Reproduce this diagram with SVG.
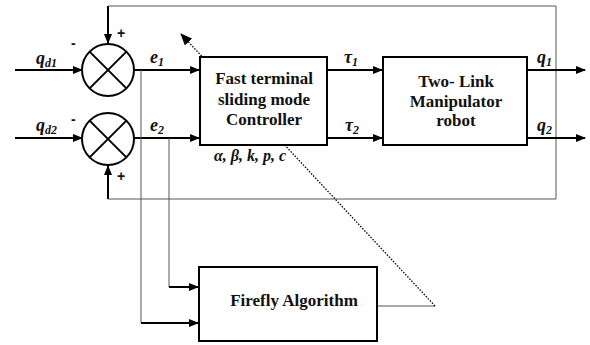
<svg xmlns="http://www.w3.org/2000/svg" width="590" height="345" viewBox="0 0 590 345">
<style>
.thick{stroke:#000;stroke-width:2;fill:none}
.thin{stroke:#555;stroke-width:1;fill:none}
.box{fill:#fff;stroke:#000;stroke-width:2}
.t{font-family:'Liberation Serif','DejaVu Serif',serif;font-weight:bold;font-size:17px;fill:#111;text-anchor:middle}
.l{font-family:'Liberation Serif','DejaVu Serif',serif;font-weight:bold;font-style:italic;font-size:18px;fill:#111}
.s{font-size:12px}
.sg{font-family:'Liberation Sans',sans-serif;font-weight:bold;font-size:14px;fill:#111}
</style>
<defs>
<marker id="ah" markerWidth="10" markerHeight="8" refX="9" refY="4" orient="auto" markerUnits="userSpaceOnUse"><path d="M0,0 L10,4 L0,8 Z" fill="#000"/></marker>
<marker id="ad" markerWidth="12" markerHeight="10" refX="11" refY="5" orient="auto" markerUnits="userSpaceOnUse"><path d="M0,0 L12,5 L0,10 Z" fill="#000"/></marker>
</defs>
<g id="connectors">
<line class="thick" x1="15" y1="70" x2="82" y2="70" marker-end="url(#ah)"/>
<line class="thick" x1="15" y1="138" x2="82" y2="138" marker-end="url(#ah)"/>
<line class="thick" x1="108" y1="6" x2="108" y2="43" marker-end="url(#ah)"/>
<line class="thick" x1="108" y1="199" x2="108" y2="166" marker-end="url(#ah)"/>
<polyline class="thin" points="108,6 556,6 556,199 108,199"/>
<line class="thick" x1="134" y1="70" x2="199" y2="70" marker-end="url(#ah)"/>
<line class="thick" x1="134" y1="138" x2="199" y2="138" marker-end="url(#ah)"/>
<polyline class="thin" points="141,70 141,323"/>
<polyline class="thin" points="169,138 169,287"/>
<line class="thick" x1="141" y1="323" x2="198" y2="323" marker-end="url(#ah)"/>
<line class="thick" x1="169" y1="287" x2="198" y2="287" marker-end="url(#ah)"/>
<line class="thick" x1="327" y1="70" x2="382" y2="70" marker-end="url(#ah)"/>
<line class="thick" x1="327" y1="138" x2="382" y2="138" marker-end="url(#ah)"/>
<line class="thick" x1="527" y1="70" x2="585" y2="70" marker-end="url(#ah)"/>
<line class="thick" x1="527" y1="138" x2="585" y2="138" marker-end="url(#ah)"/>
<line class="thin" x1="377" y1="306" x2="435" y2="306"/>
<line x1="435" y1="306" x2="181" y2="34" stroke="#000" stroke-width="1.3" stroke-dasharray="1.5,1.5" marker-end="url(#ad)"/>
</g>
<g id="sum1">
<circle cx="108" cy="70" r="26" fill="#fff" stroke="#000" stroke-width="2"/>
<line x1="89.6" y1="51.6" x2="126.4" y2="88.4" stroke="#000" stroke-width="2"/>
<line x1="126.4" y1="51.6" x2="89.6" y2="88.4" stroke="#000" stroke-width="2"/>
<text class="sg" x="71" y="48">-</text>
<text class="sg" x="117" y="38">+</text>
</g>
<g id="sum2">
<circle cx="108" cy="139" r="26" fill="#fff" stroke="#000" stroke-width="2"/>
<line x1="89.6" y1="120.6" x2="126.4" y2="157.4" stroke="#000" stroke-width="2"/>
<line x1="126.4" y1="120.6" x2="89.6" y2="157.4" stroke="#000" stroke-width="2"/>
<text class="sg" x="71" y="124">-</text>
<text class="sg" x="117" y="181">+</text>
</g>
<g id="controller">
<rect class="box" x="200" y="57" width="127" height="88"/>
<text class="t" x="264" y="84">Fast terminal</text>
<text class="t" x="264" y="105">sliding mode</text>
<text class="t" x="264" y="125">Controller</text>
</g>
<g id="robot">
<rect class="box" x="383" y="57" width="144" height="88"/>
<text class="t" x="456" y="87">Two- Link</text>
<text class="t" x="456" y="107">Manipulator</text>
<text class="t" x="456" y="126">robot</text>
</g>
<g id="firefly">
<rect class="box" x="199" y="267" width="178" height="74"/>
<text class="t" x="294" y="306">Firefly Algorithm</text>
</g>
<g id="labels">
<text class="l" x="36" y="64">q<tspan class="s" dy="3">d1</tspan></text>
<text class="l" x="36" y="131">q<tspan class="s" dy="3">d2</tspan></text>
<text class="l" x="150" y="63">e<tspan class="s" dy="3">1</tspan></text>
<text class="l" x="150" y="131">e<tspan class="s" dy="3">2</tspan></text>
<text class="l" x="344" y="63">τ<tspan class="s" dy="3">1</tspan></text>
<text class="l" x="345" y="131">τ<tspan class="s" dy="3">2</tspan></text>
<text class="l" x="537" y="63">q<tspan class="s" dy="3">1</tspan></text>
<text class="l" x="537" y="131">q<tspan class="s" dy="3">2</tspan></text>
<text class="l" x="214" y="161" style="font-size:16px">α, β, k, p, c</text>
</g>
</svg>
